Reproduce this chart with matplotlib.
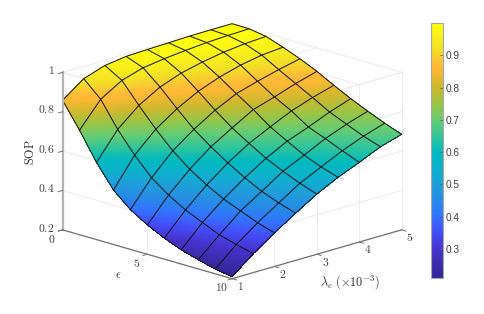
import numpy as np
import matplotlib
matplotlib.use("Agg")
import matplotlib.pyplot as plt
from matplotlib.colors import LinearSegmentedColormap, Normalize
from matplotlib.cm import ScalarMappable
from mpl_toolkits.mplot3d import proj3d

plt.rcParams['mathtext.fontset'] = 'cm'
plt.rcParams['font.family'] = ['Liberation Sans', 'DejaVu Sans']

eps = [0, 1, 2, 3, 4, 5, 6, 7, 8, 9, 10]
lam = [1, 1.5, 2, 2.5, 3, 3.5, 4, 4.5, 5]
# one row per eps
sop = [
    [.858, .937, .973, .988, .992, .995, .998, .999, .999],
    [.731, .857, .922, .955, .970, .981, .990, .995, .998],
    [.592, .729, .820, .882, .922, .947, .966, .978, .984],
    [.477, .623, .724, .797, .854, .895, .925, .945, .954],
    [.402, .533, .639, .717, .783, .836, .868, .896, .920],
    [.349, .470, .570, .653, .718, .780, .813, .850, .881],
    [.307, .419, .515, .596, .664, .717, .767, .804, .835],
    [.272, .380, .468, .545, .613, .669, .710, .755, .792],
    [.247, .342, .433, .501, .572, .623, .676, .718, .753],
    [.224, .318, .397, .467, .536, .588, .639, .682, .717],
    [.210, .296, .371, .440, .506, .560, .605, .653, .685],
]
z_ticks = [0.2, 0.4, 0.6, 0.8, 1]
z_labels = ['0.2', '0.4', '0.6', '0.8', '1']
eps_ticks = [0, 5, 10]
lam_ticks = [1, 2, 3, 4, 5]
cbar_ticks = [0.3, 0.4, 0.5, 0.6, 0.7, 0.8, 0.9]

cmap_pos = [.21, .30, .35, .40, .45, .50, .55, .60, .65, .70, .75, .80, .85, .87, .92, 1.0]
cmap_col = [(.20, .15, .58), (.27, .20, .80), (.27, .30, .97), (.20, .45, 1), (.15, .55, .90),
            (.12, .62, .85), (.05, .69, .80), (0, .73, .75), (.20, .77, .60), (.40, .80, .45),
            (.60, .77, .27), (.80, .72, .18), (.98, .72, .20), (1, .73, .22), (.95, .88, .15),
            (1, 1, .05)]
norm = Normalize(.21, 1.0)
cmap = LinearSegmentedColormap.from_list(
    'sop', [((p - .21) / .79, c) for p, c in zip(cmap_pos, cmap_col)], N=512)

fig = plt.figure(figsize=(4.85, 3.14), dpi=100)
# square axes bigger than the figure so that nothing gets clipped
size = 600
cx, cy = 224.0, 154.8
ax = fig.add_axes([(cx - size / 2) / 485, (cy - size / 2) / 314, size / 485, size / 314],
                  projection='3d', proj_type='ortho')
ax.computed_zorder = False
ax.view_init(elev=16.75, azim=-45)
ax.set_box_aspect((1, 1, .686), zoom=1.165 * 314 / size)
ax.set_xlim(0, 10)
ax.set_ylim(1, 5)
ax.set_zlim(.2, 1)
ax.set_axis_off()
ax.apply_aspect()


def label(e, l, z, s, **kw):
    x, y, _ = proj3d.proj_transform(e, l, z, ax.get_proj())
    px, py = ax.transData.transform((x, y))
    fig.text(px / 485, py / 314, s, fontsize=8.4, color='#404040', **kw)


E, L = np.meshgrid(eps, lam, indexing='ij')
Z = np.array(sop)

# finer mesh only for smooth colour shading, the black mesh stays on the read nodes
sub = 14
ei = np.linspace(0, len(eps) - 1, (len(eps) - 1) * sub + 1)
li = np.linspace(0, len(lam) - 1, (len(lam) - 1) * sub + 1)
Ef = np.interp(ei, range(len(eps)), eps)
Lf = np.interp(li, range(len(lam)), lam)
Zf = np.array([np.interp(li, range(len(lam)), row) for row in Z])
Zf = np.array([np.interp(ei, range(len(eps)), col) for col in Zf.T]).T
Ef2, Lf2 = np.meshgrid(Ef, Lf, indexing='ij')

grid_c = '#ececec'
# z levels on the two near walls
for z in z_ticks:
    ax.plot([0, 10], [1, 1], [z, z], color=grid_c, lw=.7, zorder=1)
    ax.plot([10, 10], [1, 5], [z, z], color=grid_c, lw=.7, zorder=1)
for e in eps_ticks:
    ax.plot([e, e], [1, 1], [.2, 1], color=grid_c, lw=.7, zorder=1)
    ax.plot([e, e], [1, 5], [1, 1], color=grid_c, lw=.7, zorder=1)
for l in lam_ticks:
    ax.plot([10, 10], [l, l], [.2, 1], color=grid_c, lw=.7, zorder=1)
    ax.plot([0, 10], [l, l], [1, 1], color=grid_c, lw=.7, zorder=1)

ax.plot_surface(Ef2, Lf2, Zf, facecolors=cmap(norm(Zf)), rstride=1, cstride=1,
                shade=False, linewidth=0, antialiased=False, zorder=2)
ax.plot_wireframe(E, L, Z, rstride=1, cstride=1, color='#111111', lw=.7, zorder=3)

# axis lines
ax.plot([0, 0], [1, 1], [.2, 1], color='#b4b4b4', lw=1.6, zorder=4)
ax.plot([0, 10], [1, 1], [.2, .2], color='#707070', lw=.9, zorder=4)
ax.plot([10, 10], [1, 5], [.2, .2], color='#707070', lw=.9, zorder=4)
for z, s in zip(z_ticks, z_labels):
    ax.plot([0, 0], [1, .9], [z, z], color='#707070', lw=.7, zorder=4)
    label(0, .81, z + .018, '$' + s + '$', ha='right', va='center')
for e in eps_ticks:
    ax.plot([e, e], [1, .9], [.2, .2], color='#707070', lw=.7, zorder=4)
    label(e, .75, .166, '$%d$' % e, ha='center', va='center')
for l in lam_ticks:
    ax.plot([10, 10.25], [l, l], [.2, .2], color='#707070', lw=.7, zorder=4)
    label(10.5, l, .17, '$%d$' % l, ha='center', va='center')

fig.text(30.5 / 485, 1 - 152 / 314, r'$\mathrm{SOP}$', rotation=90, ha='center', va='center',
         fontsize=8.8, color='#303030')
fig.text(118.7 / 485, 1 - 275 / 314, r'$\epsilon$', ha='center', va='center', fontsize=8.8, color='#303030')
fig.text(350 / 485, 1 - 282 / 314, r'$\lambda_e\ (\times 10^{-3})$', ha='center', va='center',
         fontsize=8.8, color='#303030')

cax = fig.add_axes([431.5 / 485, 1 - 278 / 314, 11.5 / 485, 255 / 314])
cb = fig.colorbar(ScalarMappable(norm=norm, cmap=cmap), cax=cax, ticks=cbar_ticks)
cb.ax.set_yticklabels(['%.1f' % t for t in cbar_ticks])
cb.ax.tick_params(direction='in', length=2, width=.6, color='#606060', labelcolor='#404040',
                  labelsize=7.3, pad=2)
cb.outline.set_edgecolor('#a8a8a8')
cb.outline.set_linewidth(.8)

fig.savefig('out.png', dpi=100)
